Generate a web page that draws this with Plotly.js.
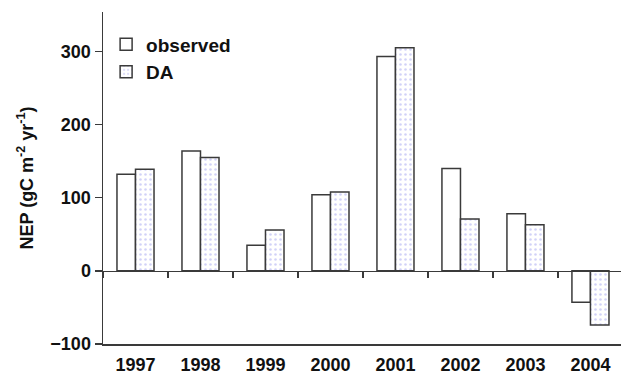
<!DOCTYPE html>
<html>
<head>
<meta charset="utf-8">
<script src="https://cdn.plot.ly/plotly-3.0.1.min.js"></script>
<style>
  html, body { margin: 0; padding: 0; background: #fff; }
  #chart { width: 621px; height: 374px; }
</style>
</head>
<body>
<div id="chart"></div>
<script>
// Annual net ecosystem production, observed vs. data-assimilation estimate
const years = ['1997', '1998', '1999', '2000', '2001', '2002', '2003', '2004'];
const observed = [132, 164, 35, 104, 293, 140, 78, -43];
const da = [139, 155, 56, 108, 305, 71, 63, -74];

const yRange = [-100, 354];
const xRange = [-0.5, 7.47];
const FONT = 'Liberation Sans, Arial, sans-serif';
const INK = '#111';
const LINE = '#3a3a3a';

const traces = [
  {
    type: 'bar', name: 'observed', x: years, y: observed,
    legendgroup: 'a',
    marker: { color: '#ffffff', line: { color: LINE, width: 1.5 } },
    hoverinfo: 'x+y'
  },
  {
    type: 'bar', name: 'DA', x: years, y: da,
    legendgroup: 'b',
    marker: {
      color: '#ffffff',
      line: { color: LINE, width: 1.5 },
      pattern: { shape: '.', fgcolor: '#a4a6f0', bgcolor: '#ffffff', size: 5, solidity: 0.2, fillmode: 'overlay' }
    },
    hoverinfo: 'x+y'
  },
  // carrier for the zero baseline axis
  {
    type: 'scatter', x: years, y: years.map(() => null), xaxis: 'x2',
    mode: 'lines', showlegend: false, hoverinfo: 'skip'
  }
];

const layout = {
  width: 621, height: 374,
  margin: { l: 103, r: 0, t: 12, b: 30 },
  paper_bgcolor: '#fff', plot_bgcolor: '#fff',
  font: { family: FONT, color: INK },
  barmode: 'group', bargap: 0.43, bargroupgap: 0,
  showlegend: true,
  legend: {
    x: 0.006, xanchor: 'left', y: 0.96, yanchor: 'top',
    bgcolor: 'rgba(0,0,0,0)', borderwidth: 0,
    font: { family: FONT, size: 19, weight: 'bold', color: INK },
    traceorder: 'grouped', tracegroupgap: 0, itemwidth: 30
  },
  xaxis: {
    type: 'category', categoryarray: years, range: xRange,
    showline: true, linecolor: LINE, linewidth: 1.5, mirror: false,
    showgrid: false, zeroline: false,
    ticks: 'outside', ticklen: 4, tickcolor: 'rgba(0,0,0,0)',
    tickfont: { family: FONT, size: 18, weight: 'bold', color: INK },
    fixedrange: true
  },
  xaxis2: {
    type: 'category', categoryarray: years, range: xRange,
    overlaying: 'x', anchor: 'free', position: (0 - yRange[0]) / (yRange[1] - yRange[0]),
    side: 'bottom',
    showline: true, linecolor: LINE, linewidth: 1.5,
    showgrid: false, zeroline: false,
    tickson: 'boundaries', ticks: 'outside', ticklen: 6, tickwidth: 1.5, tickcolor: LINE,
    showticklabels: false, fixedrange: true
  },
  yaxis: {
    range: yRange, tickvals: [-100, 0, 100, 200, 300],
    showline: true, linecolor: LINE, linewidth: 1.5,
    showgrid: false, zeroline: false,
    ticks: 'outside', ticklen: 7, tickwidth: 1.5, tickcolor: LINE,
    tickfont: { family: FONT, size: 18, weight: 'bold', color: INK },
    title: {
      text: 'NEP (gC m<sup>-2</sup> yr<sup>-1</sup>)',
      font: { family: FONT, size: 18, weight: 'bold', color: INK },
      standoff: 12
    },
    fixedrange: true
  }
};

Plotly.newPlot('chart', traces, layout, { displayModeBar: false, staticPlot: true });
</script>
</body>
</html>
